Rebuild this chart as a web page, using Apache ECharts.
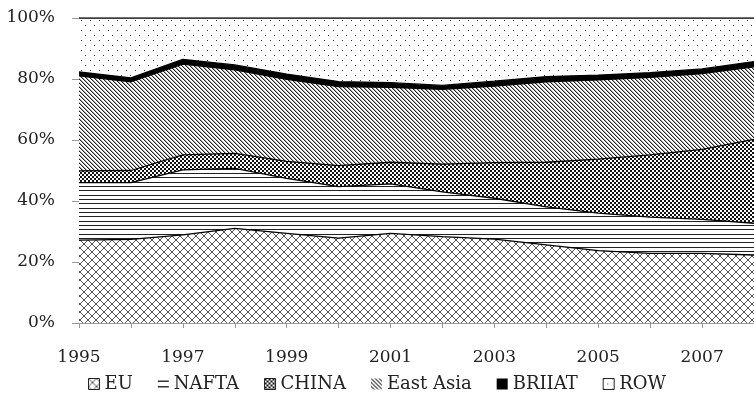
<!DOCTYPE html>
<html>
<head>
<meta charset="utf-8">
<script src="https://cdn.jsdelivr.net/npm/echarts@6/dist/echarts.min.js"></script>
<style>
  html, body { margin: 0; padding: 0; background: #fff; }
  #chart { width: 754px; height: 396px; }
</style>
</head>
<body>
<div id="chart"></div>
<script>
// years on the x axis
const years = ['1995', '1996', '1997', '1998', '1999', '2000', '2001', '2002', '2003', '2004', '2005', '2006', '2007', '2008'];

// shares in % (stacked, sum = 100)
const eu       = [27.2, 27.4, 28.9, 31.0, 29.4, 27.8, 29.4, 28.3, 27.5, 25.6, 23.7, 22.8, 22.8, 22.3];
const nafta    = [18.8, 18.6, 21.3, 19.7, 18.0, 16.9, 16.2, 14.7, 13.4, 12.5, 12.3, 11.9, 11.2, 10.4];
const china    = [3.9, 4.0, 4.9, 4.9, 5.6, 6.9, 7.1, 9.1, 11.7, 14.6, 17.7, 20.4, 22.9, 27.5];
const eastAsia = [31.1, 29.1, 29.8, 27.4, 26.9, 25.9, 24.6, 24.5, 25.1, 26.4, 26.0, 25.4, 24.9, 23.8];
const briiat   = [1.3, 1.3, 1.5, 1.6, 1.7, 1.6, 1.5, 1.3, 1.6, 1.7, 1.6, 1.6, 1.5, 1.7];
const row      = [17.7, 19.6, 13.6, 15.4, 18.4, 20.9, 21.2, 22.1, 20.7, 19.2, 18.7, 17.9, 16.7, 14.3];

const names = ['EU', 'NAFTA', 'CHINA', 'East Asia', 'BRIIAT', 'ROW'];

const FONT = 'DejaVu Serif';

// small canvas tiles used as fill patterns
function makePattern(w, h, draw) {
    const c = document.createElement('canvas');
    c.width = w;
    c.height = h;
    const ctx = c.getContext('2d');
    ctx.fillStyle = '#fff';
    ctx.fillRect(0, 0, w, h);
    draw(ctx);
    return { image: c, repeat: 'repeat' };
}

function px(ctx, x, y, color) {
    ctx.fillStyle = color;
    ctx.fillRect(x, y, 1, 1);
}

// crosshatch (diamonds)
const patEU = makePattern(8, 8, function (ctx) {
    for (let i = 0; i < 8; i++) {
        px(ctx, i, i, '#555');
        px(ctx, 7 - i, i, '#555');
    }
});
// horizontal lines
const patNAFTA = makePattern(4, 13, function (ctx) {
    ctx.fillStyle = '#222';
    ctx.fillRect(0, 0, 4, 1);
    ctx.fillRect(0, 4, 4, 1);
    ctx.fillRect(0, 8, 4, 1);
});
// dense confetti
const patCHINA = makePattern(4, 4, function (ctx) {
    ctx.fillStyle = '#111';
    ctx.fillRect(0, 0, 2, 2);
    ctx.fillRect(2, 2, 2, 2);
});
// diagonal lines, down to the right
const patEA = makePattern(4, 4, function (ctx) {
    for (let i = 0; i < 4; i++) {
        px(ctx, i, i, '#222');
        px(ctx, (i + 1) % 4, i, '#aaa');
    }
});
const patBRIIAT = '#000';
// sparse dots
const patROW = makePattern(9, 10, function (ctx) {
    px(ctx, 0, 0, '#333');
    px(ctx, 4, 5, '#333');
});

const fills = [patEU, patNAFTA, patCHINA, patEA, patBRIIAT, patROW];
const values = [eu, nafta, china, eastAsia, briiat, row];

const series = names.map(function (name, i) {
    return {
        name: name,
        type: 'line',
        stack: 'total',
        data: values[i],
        symbol: 'none',
        smooth: false,
        lineStyle: { color: '#000', width: 1.3 },
        itemStyle: { color: fills[i] },
        areaStyle: { color: fills[i], opacity: 1 },
        emphasis: { disabled: true }
    };
});

// legend icons
const legendData = [
    { name: 'EU', icon: 'rect', itemStyle: { color: patEU, borderColor: '#222', borderWidth: 1 } },
    { name: 'NAFTA', icon: 'path://M0,0H8V1H0Z M0,4H8V5H0Z', itemStyle: { color: '#333', borderWidth: 0 } },
    { name: 'CHINA', icon: 'rect', itemStyle: { color: patCHINA, borderColor: '#222', borderWidth: 1 } },
    { name: 'East Asia', icon: 'rect', itemStyle: { color: patEA, borderWidth: 0 } },
    { name: 'BRIIAT', icon: 'rect', itemStyle: { color: '#000', borderWidth: 0 } },
    { name: 'ROW', icon: 'rect', itemStyle: { color: patROW, borderColor: '#222', borderWidth: 1 } }
];

const chart = echarts.init(document.getElementById('chart'));

const option = {
    animation: false,
    backgroundColor: '#fff',
    grid: {
        left: 79,
        right: -1,
        top: 18,
        bottom: 73,
        containLabel: false
    },
    legend: {
        data: legendData,
        top: 370,
        left: 'center',
        itemWidth: 11,
        itemHeight: 11,
        itemGap: 25,
        selectedMode: false,
        textStyle: { fontFamily: FONT, fontSize: 18, color: '#222' }
    },
    xAxis: {
        type: 'category',
        data: years,
        boundaryGap: false,
        axisLine: { show: true, lineStyle: { color: '#999', width: 1 } },
        axisTick: { show: true, length: 5, interval: 0, lineStyle: { color: '#999' } },
        axisLabel: {
            interval: 1,
            margin: 26,
            fontFamily: FONT,
            fontSize: 17,
            color: '#222'
        },
        splitLine: { show: false }
    },
    yAxis: {
        type: 'value',
        min: 0,
        max: 100,
        interval: 20,
        axisLine: { show: true, lineStyle: { color: '#999', width: 1 } },
        axisTick: { show: true, length: 7, lineStyle: { color: '#999' } },
        axisLabel: {
            formatter: '{value}%',
            margin: 24,
            fontFamily: FONT,
            fontSize: 17,
            color: '#222'
        },
        splitLine: { show: false }
    },
    series: series
};

chart.setOption(option);
</script>
</body>
</html>
